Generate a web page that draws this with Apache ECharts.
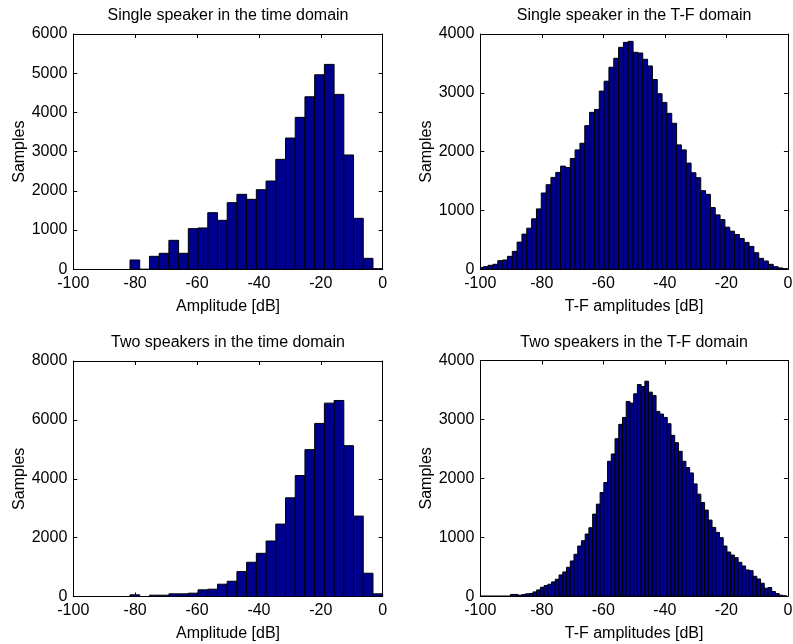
<!DOCTYPE html>
<html><head><meta charset="utf-8">
<script src="https://cdn.jsdelivr.net/npm/echarts@6/dist/echarts.min.js"></script>
<style>html,body{margin:0;padding:0;background:#fff}#c{width:793px;height:644px}</style>
</head><body><div id="c"></div>
<script>
// ---- data ----
const titles = ['Single speaker in the time domain', 'Single speaker in the T-F domain',
                'Two speakers in the time domain', 'Two speakers in the T-F domain'];
const xNames = ['Amplitude [dB]', 'T-F amplitudes [dB]', 'Amplitude [dB]', 'T-F amplitudes [dB]'];
const yName = 'Samples';
const xMin = -100, xMax = 0, xStep = 20;
const yMaxes = [6000, 4000, 8000, 4000];
const ySteps = [1000, 1000, 2000, 1000];

// histogram bins: first bin left edge (dB), bin width (dB), counts
const tlBinStart = -81.67, tlBinWidth = 3.141;
const tlCounts = [238, 0, 331, 408, 739, 408, 1037, 1054, 1444, 1249, 1699, 1912, 1784,
  2030, 2251, 2804, 3347, 3874, 4400, 4960, 5225, 4460, 2915, 1300, 280, 15];

const trBinStart = -100.6, trBinWidth = 1.571;
const trCounts = [30, 45, 68, 85, 147, 158, 220, 305, 462, 598, 699, 858, 1027, 1297, 1438,
  1562, 1647, 1754, 1731, 1884, 2030, 2143,
  2442, 2668, 2718, 3029, 3198, 3435, 3587, 3773, 3858, 3875, 3689, 3677, 3570, 3457, 3226,
  2984, 2837, 2651, 2482, 2115, 2030,
  1805, 1641, 1557, 1337, 1275, 1049, 925, 846, 716, 648, 592, 524, 457, 389, 282, 186,
  141, 85, 45, 23, 11];

const blBinStart = -81.67, blBinWidth = 3.141;
const blCounts = [56, 0, 45, 45, 90, 90, 113, 226, 248, 418, 519, 846, 1163, 1467, 1885,
  2460, 3352, 4108, 4989, 5880, 6569, 6659, 5124, 2731, 790, 90];

const brBinStart = -99.87, brBinWidth = 1.213;
const brCounts = [0, 0, 0, 0, 0, 0, 0, 0, 30, 30, 17, 28, 40, 45, 73, 107, 152, 180, 203,
  243, 288, 361, 412, 491, 598, 711, 852, 942,
  1055, 1162, 1393, 1562, 1760, 1929, 2290, 2414, 2673, 2916, 3034, 3305, 3277, 3435, 3593,
  3559, 3649, 3463, 3407, 3136, 3091, 3034, 2927, 2730, 2606, 2459, 2290, 2183,
  2092, 1906, 1731, 1590, 1461, 1292, 1167, 1083, 993, 852, 750, 699, 654, 575, 513, 446,
  434, 338, 293, 220, 135, 147, 79, 45, 17, 6];

const hists = [
  [tlBinStart, tlBinWidth, tlCounts],
  [trBinStart, trBinWidth, trCounts],
  [blBinStart, blBinWidth, blCounts],
  [brBinStart, brBinWidth, brCounts]
];

// ---- layout ----
const grids = [
  {left: 73.3, top: 34, width: 309.4, height: 235.3},
  {left: 480.3, top: 34, width: 307.6, height: 235.3},
  {left: 73.3, top: 361, width: 309.4, height: 235.5},
  {left: 480.3, top: 360.5, width: 307.6, height: 235.7}
];
const FONT = "'Liberation Sans', Arial, Helvetica, sans-serif";
const FS = 16;
const barFill = '#00008F';
const plain = v => String(v);

const option = {
  animation: false,
  backgroundColor: '#fff',
  textStyle: {fontFamily: FONT},
  title: [], grid: [], xAxis: [], yAxis: [], series: []
};

hists.forEach((h, i) => {
  const g = grids[i];
  option.grid.push(Object.assign({containLabel: false, outerBoundsMode: 'none'}, g));
  option.title.push({
    text: titles[i], left: g.left + g.width / 2, top: g.top - 26, textAlign: 'center', padding: 0,
    textStyle: {fontFamily: FONT, fontSize: FS, fontWeight: 'normal', color: '#000'}
  });
  const common = {
    gridIndex: i, type: 'value', splitLine: {show: false},
    axisLine: {show: true, onZero: false, lineStyle: {color: '#000', width: 1}},
    axisTick: {show: true, inside: true, length: 4, lineStyle: {color: '#000', width: 1}}
  };
  option.xAxis.push(Object.assign({}, common, {
    position: 'bottom', min: xMin, max: xMax, interval: xStep,
    name: xNames[i], nameLocation: 'middle', nameGap: 29,
    nameTextStyle: {fontFamily: FONT, fontSize: FS, color: '#000'},
    axisLabel: {show: true, margin: 6, formatter: plain, fontFamily: FONT, fontSize: FS, color: '#000'}
  }));
  option.xAxis.push(Object.assign({}, common, {
    position: 'top', min: xMin, max: xMax, interval: xStep, axisLabel: {show: false}
  }));
  option.yAxis.push(Object.assign({}, common, {
    position: 'left', min: 0, max: yMaxes[i], interval: ySteps[i],
    name: yName, nameLocation: 'middle', nameGap: 44,
    nameTextStyle: {fontFamily: FONT, fontSize: FS, color: '#000'},
    axisLabel: {show: true, margin: 6, formatter: plain, fontFamily: FONT, fontSize: FS, color: '#000'}
  }));
  option.yAxis.push(Object.assign({}, common, {
    position: 'right', min: 0, max: yMaxes[i], interval: ySteps[i], axisLabel: {show: false}
  }));
  const [start, w, counts] = h;
  const data = counts.map((c, k) => [start + k * w, start + (k + 1) * w, c]);
  option.series.push({
    type: 'custom', xAxisIndex: 2 * i, yAxisIndex: 2 * i, clip: true,
    encode: {x: [0, 1], y: 2},
    renderItem: function (params, api) {
      const p0 = api.coord([api.value(0), api.value(2)]);
      const p1 = api.coord([api.value(1), 0]);
      return {
        type: 'rect',
        shape: {x: p0[0], y: p0[1], width: p1[0] - p0[0], height: p1[1] - p0[1]},
        style: {fill: barFill, stroke: '#000', lineWidth: 1}
      };
    },
    data: data
  });
});

const chart = echarts.init(document.getElementById('c'), null, {renderer: 'canvas'});
chart.setOption(option);
</script></body></html>
